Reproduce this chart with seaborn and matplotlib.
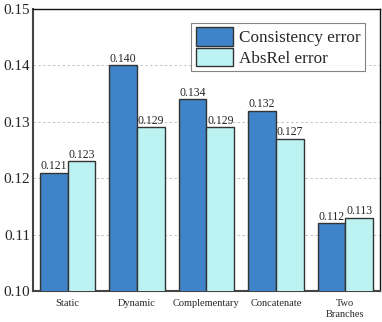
import matplotlib
matplotlib.use("Agg")
import matplotlib.pyplot as plt
import seaborn as sns
import pandas as pd

methods = ["Static", "Dynamic", "Complementary", "Concatenate", "Two\nBranches"]
consistency = [0.121, 0.140, 0.134, 0.132, 0.112]
absrel = [0.123, 0.129, 0.129, 0.127, 0.113]
series_names = ["Consistency error", "AbsRel error"]
colors = ["#3F83C8", "#BDF2F3"]

df = pd.DataFrame({
    "method": methods * 2,
    "value": consistency + absrel,
    "metric": [series_names[0]] * len(methods) + [series_names[1]] * len(methods),
})

sns.set_style("white")
plt.rcParams["font.family"] = ["Liberation Serif", "DejaVu Serif"]

fig = plt.figure(figsize=(3.82, 3.22), dpi=100)
ax = fig.add_axes([0.086, 0.096, 0.909, 0.876])

sns.barplot(data=df, x="method", y="value", hue="metric", palette=colors,
            edgecolor="#333333", linewidth=1.0, width=0.8, ax=ax, zorder=3,
            saturation=1)

for cont in ax.containers:
    ax.bar_label(cont, fmt="%.3f", fontsize=8.5, padding=0.5)

ax.set_ylim(0.10, 0.15)
ax.set_xlim(-0.5, 4.5)
ax.set_yticks([0.10, 0.11, 0.12, 0.13, 0.14, 0.15])
ax.set_yticklabels(["0.10", "0.11", "0.12", "0.13", "0.14", "0.15"], fontsize=11)
ax.tick_params(axis="x", labelsize=7.5, length=0, pad=6)
ax.tick_params(axis="y", length=0, pad=2)
ax.set_xlabel("")
ax.set_ylabel("")
ax.yaxis.grid(True, linestyle=(0, (2.5, 2.5)), color="#c4c4c4", linewidth=0.7, zorder=0)
ax.set_axisbelow(True)

for s in ["top", "right"]:
    ax.spines[s].set_color("#111111")
    ax.spines[s].set_linewidth(1.0)
for s in ["left", "bottom"]:
    ax.spines[s].set_color("#444444")
    ax.spines[s].set_linewidth(1.5)

leg = ax.legend(loc="upper right", bbox_to_anchor=(0.957, 0.95), fontsize=12.3,
                frameon=True, fancybox=False, edgecolor="#666666",
                handlelength=2.2, handleheight=1.3, handletextpad=0.35,
                borderpad=0.25, labelspacing=0.08, borderaxespad=0)
leg.get_frame().set_linewidth(0.8)

fig.savefig("out.png", dpi=100)
